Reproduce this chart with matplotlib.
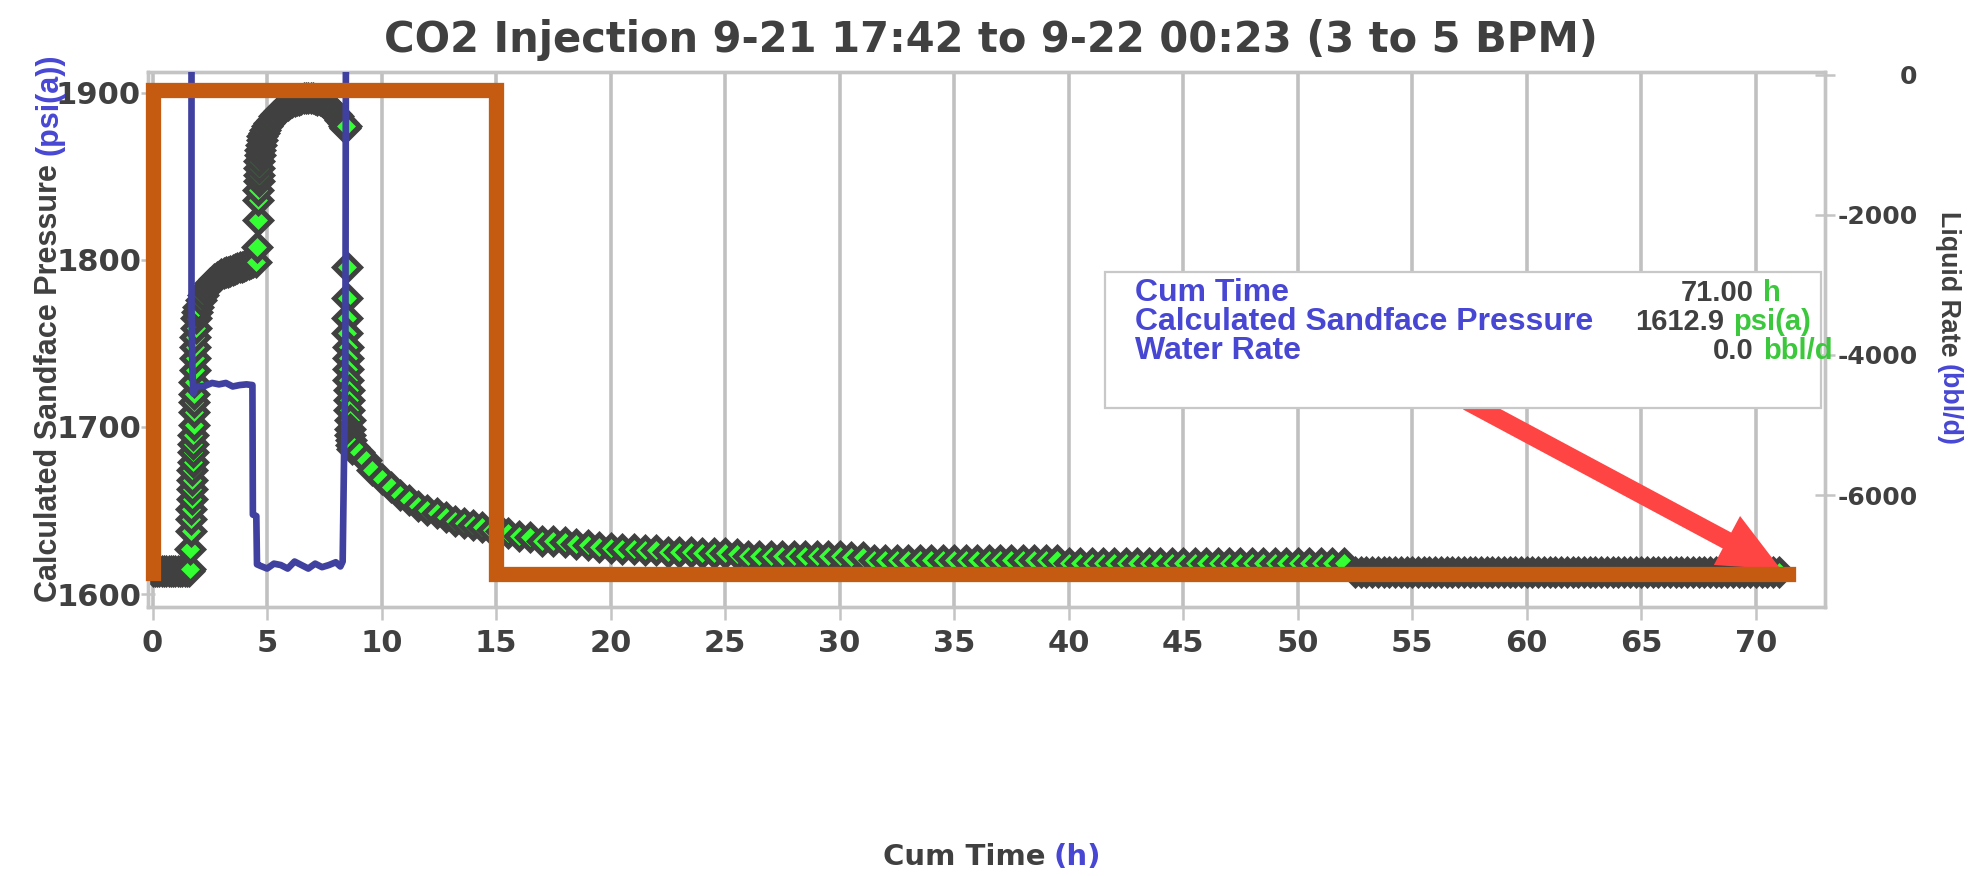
import matplotlib
matplotlib.use("Agg")
import matplotlib.pyplot as plt
from matplotlib import font_manager
from matplotlib.patches import FancyArrowPatch, Rectangle
from matplotlib.lines import Line2D

plt.rcParams['font.family'] = ['DejaVu Sans']
plt.rcParams['axes.unicode_minus'] = False

# ---------------- data ----------------
# calculated sandface pressure, psi(a)
t_flat0 = [0.0, 0.1, 0.2, 0.3, 0.4, 0.5, 0.6, 0.7, 0.8, 0.9, 1.0, 1.1, 1.2, 1.3, 1.4, 1.5, 1.6]
p_flat0 = [1613.5, 1613.5, 1613.5, 1613.5, 1613.5, 1613.5, 1613.5, 1613.5, 1613.5, 1613.5,
           1613.5, 1613.5, 1613.5, 1613.5, 1613.5, 1613.5, 1613.5]

t_rise = [1.62, 1.64, 1.66, 1.68, 1.70, 1.71, 1.72, 1.73, 1.74, 1.75, 1.76, 1.77, 1.78, 1.79,
          1.80, 1.81, 1.82, 1.83, 1.84, 1.85, 1.86, 1.87, 1.88, 1.90]
p_rise = [1615, 1627, 1638, 1645, 1651, 1657, 1663, 1668, 1674, 1679, 1685, 1690, 1695, 1701,
          1709, 1715, 1720, 1727, 1734, 1741, 1748, 1754, 1759, 1765]

t_shoulder = [1.95, 2.0, 2.1, 2.2, 2.3, 2.4, 2.5, 2.6, 2.7, 2.8, 2.9, 3.0, 3.1, 3.2, 3.3, 3.4,
              3.5, 3.6, 3.7, 3.8, 3.9, 4.0, 4.1, 4.2, 4.3, 4.4, 4.5]
p_shoulder = [1769, 1772, 1776, 1779, 1782, 1784, 1786, 1787, 1788.5, 1789.5, 1790.5, 1791.5,
              1792, 1792.5, 1793, 1793.5, 1794, 1794.5, 1795, 1795.5, 1796, 1796.5, 1797,
              1797.5, 1798, 1798.5, 1799]

t_hump = [4.57, 4.59, 4.61, 4.62, 4.63, 4.64, 4.65, 4.66, 4.68, 4.70, 4.73, 4.76, 4.80, 4.85,
          4.90, 5.0, 5.1, 5.2, 5.3, 5.4, 5.5, 5.6, 5.7, 5.8, 5.9, 6.0, 6.1, 6.2, 6.3, 6.4, 6.5,
          6.6, 6.7, 6.8, 6.9, 7.0, 7.1, 7.2, 7.3, 7.4, 7.5, 7.6, 7.7, 7.8, 7.9, 8.0, 8.1, 8.2,
          8.3, 8.35, 8.4]
p_hump = [1808, 1824, 1836, 1842, 1847, 1851, 1855, 1859, 1863, 1866, 1869, 1872, 1874, 1876,
          1878, 1880, 1882, 1884, 1886, 1887.5, 1889, 1890, 1891, 1892, 1893, 1894, 1894.5,
          1895, 1895.5, 1896, 1896.5, 1897, 1897, 1897, 1897, 1897, 1896.5, 1896, 1895.5,
          1895, 1894, 1893, 1892, 1890.5, 1889, 1887.5, 1886, 1884, 1882, 1880, 1879]

t_drop = [8.45, 8.47, 8.49, 8.50, 8.51, 8.52, 8.53, 8.54, 8.55, 8.56, 8.57, 8.58, 8.60, 8.62,
          8.64, 8.66, 8.68, 8.70]
p_drop = [1880, 1796, 1777, 1765, 1756, 1748, 1741, 1735, 1728, 1722, 1716, 1710, 1704, 1699,
          1695, 1692, 1689, 1687]

t_decay = [8.8, 9.0, 9.3, 9.6, 10.0, 10.4, 10.8, 11.2, 11.6, 12.0, 12.4, 12.8, 13.2, 13.6,
           14.0, 14.4, 14.8, 15.2]
p_decay = [1688, 1685, 1680, 1674.5, 1669, 1664, 1659.5, 1656, 1653, 1650.5, 1648.5, 1646,
           1644, 1642.5, 1641.5, 1640, 1638.5, 1637.5]

t_tail = [15.5, 16.0, 16.5, 17.0, 17.5, 18.0, 18.5, 19.0, 19.5, 20.0, 20.5, 21.0, 21.5, 22.0,
          22.5, 23.0, 23.5, 24.0, 24.5, 25.0, 25.5, 26.0, 26.5, 27.0, 27.5, 28.0, 28.5, 29.0,
          29.5, 30.0, 30.5, 31.0, 31.5, 32.0, 32.5, 33.0, 33.5, 34.0, 34.5, 35.0, 35.5, 36.0,
          36.5, 37.0, 37.5, 38.0, 38.5, 39.0, 39.5, 40.0, 40.5, 41.0, 41.5, 42.0, 42.5, 43.0,
          43.5, 44.0, 44.5, 45.0, 45.5, 46.0, 46.5, 47.0, 47.5, 48.0, 48.5, 49.0, 49.5, 50.0,
          50.5, 51.0, 51.5, 52.0]
p_tail = [1636.5, 1635, 1634, 1632, 1631.5, 1631, 1630, 1629.5, 1628, 1627.5, 1627, 1627,
          1626.5, 1626.5, 1625, 1625, 1625, 1624.5, 1624.5, 1624.5, 1624, 1623, 1623, 1623,
          1623, 1622.5, 1622.5, 1622.5, 1622.5, 1622.5, 1622, 1622, 1620.5, 1620.5, 1620.5,
          1620.5, 1620.5, 1620.5, 1620.5, 1620.5, 1620.5, 1620.5, 1620.5, 1620.5, 1620.5,
          1620.5, 1620.5, 1620.5, 1620.5, 1618.5, 1618.5, 1618.5, 1618.5, 1618.5, 1618.5,
          1618.5, 1618.5, 1618.5, 1618.5, 1618.5, 1618.5, 1618.5, 1618.5, 1618.5, 1618.5,
          1618.5, 1618.5, 1618.5, 1618.5, 1618.5, 1618.5, 1618.5, 1618.5, 1618.5]

t_end = [52.5, 52.75, 53.0, 53.25, 53.5, 53.75, 54.0, 54.25, 54.5, 54.75, 55.0, 55.25, 55.5,
         55.75, 56.0, 56.25, 56.5, 56.75, 57.0, 57.25, 57.5, 57.75, 58.0, 58.25, 58.5, 58.75,
         59.0, 59.25, 59.5, 59.75, 60.0, 60.25, 60.5, 60.75, 61.0, 61.25, 61.5, 61.75, 62.0,
         62.25, 62.5, 62.75, 63.0, 63.25, 63.5, 63.75, 64.0, 64.25, 64.5, 64.75, 65.0, 65.25,
         65.5, 65.75, 66.0, 66.25, 66.5, 66.75, 67.0, 67.25, 67.5, 67.75, 68.0, 68.25, 68.5,
         68.75, 69.0, 69.25, 69.5, 69.75, 70.0, 70.25, 70.5, 70.75, 71.0]
p_end = [1613.2, 1613.2, 1613.2, 1613.2, 1613.2, 1613.2, 1613.2, 1613.2, 1613.2, 1613.2,
         1613.1, 1613.1, 1613.1, 1613.1, 1613.1, 1613.1, 1613.1, 1613.1, 1613.1, 1613.1,
         1613.1, 1613.1, 1613.1, 1613.1, 1613.1, 1613.1, 1613.1, 1613.1, 1613.1, 1613.1,
         1613.0, 1613.0, 1613.0, 1613.0, 1613.0, 1613.0, 1613.0, 1613.0, 1613.0, 1613.0,
         1613.0, 1613.0, 1613.0, 1613.0, 1613.0, 1613.0, 1613.0, 1613.0, 1613.0, 1613.0,
         1613.0, 1613.0, 1613.0, 1613.0, 1613.0, 1613.0, 1613.0, 1613.0, 1613.0, 1613.0,
         1612.9, 1612.9, 1612.9, 1612.9, 1612.9, 1612.9, 1612.9, 1612.9, 1612.9, 1612.9,
         1612.9, 1612.9, 1612.9, 1612.9, 1612.9]

cum_time = t_flat0 + t_rise + t_shoulder + t_hump + t_drop + t_decay + t_tail + t_end
pressure = p_flat0 + p_rise + p_shoulder + p_hump + p_drop + p_decay + p_tail + p_end

# liquid (water) rate, bbl/d (negative = injection)
t_rate = [1.70, 1.70, 1.72, 1.74, 1.78, 1.85, 2.0, 2.3, 2.6, 2.9, 3.2, 3.5, 3.8, 4.1, 4.36,
          4.38, 4.53, 4.56, 4.7, 5.0, 5.3, 5.6, 5.9, 6.2, 6.5, 6.8, 7.1, 7.4, 7.7, 8.0, 8.2,
          8.30, 8.42, 8.44]
rate = [0, -3300, -3750, -4200, -4550, -4480, -4450, -4440, -4400, -4420, -4400, -4450,
        -4430, -4420, -4430, -6280, -6300, -6990, -7010, -7050, -6980, -7000, -7050, -6950,
        -7000, -7050, -6980, -7030, -7000, -6960, -7020, -6950, -4000, 0]

x_ticks = [0, 5, 10, 15, 20, 25, 30, 35, 40, 45, 50, 55, 60, 65, 70]
p_ticks = [1600, 1700, 1800, 1900]
rate_ticks = [0, -2000, -4000, -6000]

readout_names = ['Cum Time', 'Calculated Sandface Pressure', 'Water Rate']
readout_values = ['71.00', '1612.9', '0.0']
readout_units = ['h', 'psi(a)', 'bbl/d']

# hand-drawn highlight (orange) and pointer (red), in data units
hl_t = [0.0, 0.0, 15.0, 15.0, 71.4]
hl_p = [1612.5, 1902.0, 1902.0, 1611.8, 1611.8]
arrow_from = (57.3, 1716.0)
arrow_to = (71.2, 1614.0)

# ---------------- styling ----------------
DARK = '#404040'
BLUE_TXT = '#4747d4'
GREEN_TXT = '#3cc83c'
SPINE = '#c4c4c4'

installed = {f.name for f in font_manager.fontManager.ttflist}
if 'Liberation Sans Narrow' in installed:
    right_family, right_size = 'Liberation Sans Narrow', 23.5
else:
    right_family, right_size = 'Liberation Sans', 19.3

fig = plt.figure(figsize=(19.81, 8.76), dpi=100)
ax = fig.add_axes([0.0747, 0.307, 0.921 - 0.0747, 0.918 - 0.307])
ax2 = ax.twinx()

ax.plot(cum_time, pressure, ls='none', marker='D', ms=13.5, mfc='#33ff33', mec='#404040',
        mew=3.6, zorder=3)
ax2.plot(t_rate, rate, color='#4040a0', lw=4.8, zorder=3)

ax.set_xlim(-0.2, 73.0)
ax.set_ylim(1592.2, 1912.6)
ax2.set_ylim(-7600, 43)

ax.set_xticks(x_ticks)
ax.set_yticks(p_ticks)
ax2.set_yticks(rate_ticks)
ax.grid(axis='x', color='#c0c0c0', lw=2.6, zorder=0)
ax.set_axisbelow(True)

for a in (ax, ax2):
    for s in a.spines.values():
        s.set_color(SPINE)
        s.set_linewidth(2.4)

ax.tick_params(axis='x', direction='out', length=9, width=1.8, color=SPINE, labelsize=22,
               labelcolor=DARK, pad=7)
ax.tick_params(axis='y', direction='inout', length=10, width=1.8, color=SPINE, labelsize=22,
               labelcolor=DARK, pad=0)
ax2.tick_params(axis='y', direction='inout', length=14, width=1.8, color=SPINE, labelsize=18,
                labelcolor=DARK, pad=60)
for lab in ax.get_xticklabels() + ax.get_yticklabels() + ax2.get_yticklabels():
    lab.set_fontweight('bold')
for lab in ax2.get_yticklabels():
    lab.set_horizontalalignment('right')

# readout box
box = Rectangle((41.6, 1711.4), 72.85 - 41.6, 1792.8 - 1711.4, transform=ax.transData,
                fc='white', ec='#c8c8c8', lw=1.6, zorder=6)
ax2.add_artist(box)
row_p = [1780.5, 1763.0, 1745.5]
for name, yp in zip(readout_names, row_p):
    ax2.text(42.9, yp, name, color=BLUE_TXT, ha='left', family='Liberation Sans',
             fontsize=23, fontweight='bold', va='center', transform=ax.transData, zorder=7)
vx = [69.9, 68.6, 69.9]
ux = [70.3, 69.0, 70.3]
for val, unit, yp, x1, x2 in zip(readout_values, readout_units, row_p, vx, ux):
    ax2.text(x1, yp, val, color=DARK, ha='right', family='Liberation Sans', fontsize=21,
             fontweight='bold', va='center', transform=ax.transData, zorder=7)
    ax2.text(x2, yp, unit, color=GREEN_TXT, ha='left', family='Liberation Sans', fontsize=21,
             fontweight='bold', va='center', transform=ax.transData, zorder=7)

# red pointer arrow
arr = FancyArrowPatch(arrow_from, arrow_to, transform=ax.transData,
                      arrowstyle='simple,head_width=2.0,head_length=2.2,tail_width=0.65',
                      mutation_scale=20, color='#ff4444', lw=0, zorder=5)
ax2.add_artist(arr)

# orange highlight
hl = Line2D(hl_t, hl_p, transform=ax.transData, color='#c55a11', lw=11,
            solid_joinstyle='miter', solid_capstyle='projecting', zorder=9, clip_on=False)
ax2.add_artist(hl)

# title
fig.text(0.5, 0.954, 'CO2 Injection 9-21 17:42 to 9-22 00:23 (3 to 5 BPM)',
         ha='center', va='center', fontsize=30, fontweight='bold', color=DARK)

# two-colour axis labels
fig.canvas.draw()
rend = fig.canvas.get_renderer()
W, H = fig.bbox.width, fig.bbox.height


def colour_label(parts, cx, cy, rotation, size, gap, family='DejaVu Sans'):
    objs = [fig.text(0, 0, s, color=c, rotation=rotation, rotation_mode='anchor',
                     ha='left', va='baseline', fontsize=size, fontweight='bold',
                     family=family)
            for s, c in parts]
    ext = [o.get_window_extent(rend) for o in objs]
    if rotation == 0:
        lens = [e.width for e in ext]
    else:
        lens = [e.height for e in ext]
    total = sum(lens) + gap * (len(parts) - 1)
    if rotation == 0:
        pos = cx * W - total / 2
        for o, n in zip(objs, lens):
            o.set_position((pos / W, cy))
            pos += n + gap
    elif rotation == 90:
        pos = cy * H - total / 2
        for o, n in zip(objs, lens):
            o.set_position((cx, pos / H))
            pos += n + gap
    else:
        pos = cy * H + total / 2
        for o, n in zip(objs, lens):
            o.set_position((cx, pos / H))
            pos -= n + gap


colour_label([('Cum Time', DARK), ('(h)', BLUE_TXT)], 0.501, 0.012, 0, 21, 8)
colour_label([('Calculated Sandface Pressure', DARK), ('(psi(a))', BLUE_TXT)],
             0.029, 0.626, 90, 22, 9, family='Liberation Sans')
colour_label([('Liquid Rate', DARK), ('(bbl/d)', BLUE_TXT)], 0.980, 0.625, 270,
             right_size, 8, family=right_family)

fig.savefig('out.png', dpi=100)
